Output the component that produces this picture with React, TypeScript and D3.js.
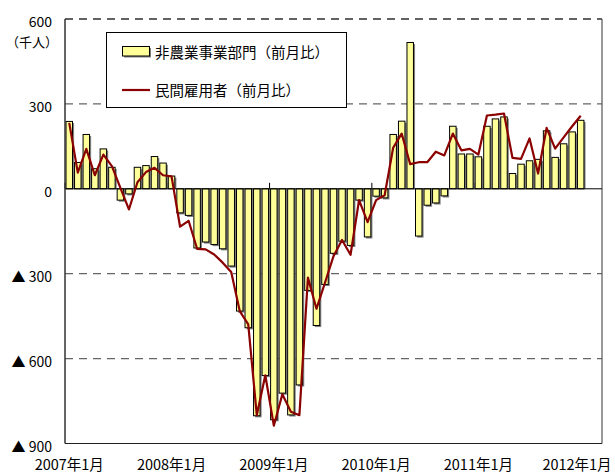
import React, { useEffect, useRef } from 'react';
import * as d3 from 'd3';

// 2007年1月〜2012年1月（月次、千人）
const nonfarmChange = [
  238, 93, 192, 71, 141, 76, -40, -18, 76, 82, 114, 91,
  45, -85, -94, -209, -188, -197, -212, -273, -432, -491, -802, -660,
  -816, -722, -799, -693, -359, -483, -338, -228, -185, -200, -40, -170,
  -26, -32, 192, 239, 517, -167, -58, -50, -25, 221, 123, 123,
  113, 221, 247, 254, 54, 87, 99, 104, 205, 111, 159, 201,
  242,
];

const privateChange = [
  233, 57, 141, 48, 121, 80, 3, -73, 23, 59, 74, 48,
  44, -134, -113, -212, -214, -232, -261, -294, -432, -479, -800, -659,
  -837, -726, -788, -800, -314, -424, -332, -238, -181, -233, -40, -118,
  -40, -23, 145, 195, 87, 94, 94, 131, 118, 195, 136, 141,
  121, 259, 262, 266, 109, 106, 178, 54, 215, 142, 182, 221,
  258,
];

const xTickLabels = ['2007年1月', '2008年1月', '2009年1月', '2010年1月', '2011年1月', '2012年1月'];
const yTicks = [600, 300, 0, -300, -600, -900];
const legendLabels = ['非農業事業部門（前月比）', '民間雇用者（前月比）'];

// 横軸は2012年3月まで（最後の2か月は空き）
const months = d3.timeMonths(new Date(2007, 0, 1), new Date(2012, 3, 1)).map(d3.timeFormat('%Y-%m'));

const FONT = "'Noto Sans CJK JP', 'Noto Sans', sans-serif";

const App: React.FC = () => {
  const ref = useRef<SVGSVGElement | null>(null);

  useEffect(() => {
    if (!ref.current) return;
    const svg = d3.select(ref.current);
    svg.selectAll('*').remove();

    const width = 615;
    const height = 474;
    const margin = { top: 19, right: 13, bottom: 30.5, left: 65 };
    const left = margin.left;
    const right = width - margin.right;
    const top = margin.top;
    const bottom = height - margin.bottom;

    const x = d3.scaleBand<string>()
      .domain(months)
      .range([left, right])
      .paddingInner(0.24)
      .paddingOuter(0.12);

    const y = d3.scaleLinear()
      .domain([-900, 600])
      .range([bottom, top]);

    const step = x.step();
    const bw = x.bandwidth();
    const cx = (i: number) => (x(months[i]) as number) + bw / 2;

    // grid lines
    svg.append('g')
      .selectAll('line')
      .data(yTicks.filter(v => v !== 0 && v !== -900))
      .enter().append('line')
      .attr('x1', left).attr('x2', right)
      .attr('y1', d => y(d)).attr('y2', d => y(d))
      .attr('stroke', '#666')
      .attr('stroke-width', 1.3)
      .attr('stroke-dasharray', '8,6');

    // frame
    svg.append('line')
      .attr('x1', right).attr('x2', right).attr('y1', top).attr('y2', bottom)
      .attr('stroke', '#555').attr('stroke-width', 1.2);
    svg.append('line')
      .attr('x1', left).attr('x2', right).attr('y1', bottom).attr('y2', bottom)
      .attr('stroke', '#222').attr('stroke-width', 1.2);

    // year ticks on zero line
    svg.append('g')
      .selectAll('line')
      .data(d3.range(0, months.length, 12))
      .enter().append('line')
      .attr('x1', i => (x(months[i]) as number) - (step - bw) / 2)
      .attr('x2', i => (x(months[i]) as number) - (step - bw) / 2)
      .attr('y1', y(0)).attr('y2', y(0) - 6)
      .attr('stroke', '#000').attr('stroke-width', 1);

    // bars with shadow
    const bars = svg.append('g');
    bars.selectAll('.shadow')
      .data(nonfarmChange)
      .enter().append('rect')
      .attr('class', 'shadow')
      .attr('x', (d, i) => (x(months[i]) as number) + 1.6)
      .attr('y', d => (d < 0 ? y(0) : y(d) + 1.6))
      .attr('width', bw)
      .attr('height', d => Math.abs(y(d) - y(0)) + (d < 0 ? 1.6 : -1.6))
      .attr('fill', '#808080');
    bars.selectAll('.bar')
      .data(nonfarmChange)
      .enter().append('rect')
      .attr('class', 'bar')
      .attr('x', (d, i) => x(months[i]) as number)
      .attr('y', d => (d < 0 ? y(0) : y(d)))
      .attr('width', bw)
      .attr('height', d => Math.abs(y(d) - y(0)))
      .attr('fill', '#FFFF99')
      .attr('stroke', '#000')
      .attr('stroke-width', 1);

    // zero line
    svg.append('line')
      .attr('x1', left).attr('x2', right).attr('y1', y(0)).attr('y2', y(0))
      .attr('stroke', '#000').attr('stroke-width', 1);

    // top dashed line (600)
    svg.append('line')
      .attr('x1', left).attr('x2', right).attr('y1', y(600)).attr('y2', y(600))
      .attr('stroke', '#555').attr('stroke-width', 1.5)
      .attr('stroke-dasharray', '8,6');

    // left axis
    svg.append('line')
      .attr('x1', left).attr('x2', left).attr('y1', top).attr('y2', bottom)
      .attr('stroke', '#333').attr('stroke-width', 1.5);

    // private employment line
    const line = d3.line<number>()
      .x((d, i) => cx(i))
      .y(d => y(d));
    svg.append('path')
      .datum(privateChange)
      .attr('d', line)
      .attr('fill', 'none')
      .attr('stroke', '#8B0000')
      .attr('stroke-width', 2.2)
      .attr('stroke-linejoin', 'round');

    // y labels
    svg.append('g')
      .selectAll('text')
      .data(yTicks)
      .enter().append('text')
      .attr('x', 52)
      .attr('y', d => y(d) + 8)
      .attr('text-anchor', 'end')
      .attr('font-family', FONT)
      .attr('font-size', 14)
      .attr('fill', '#000')
      .text(d => (d < 0 ? `▲ ${-d}` : `${d}`));

    svg.append('text')
      .attr('x', 58)
      .attr('y', 47)
      .attr('text-anchor', 'end')
      .attr('font-family', FONT)
      .attr('font-size', 13)
      .text('（千人）');

    // x labels
    svg.append('g')
      .selectAll('text')
      .data(xTickLabels)
      .enter().append('text')
      .attr('x', (d, k) => Math.min(cx(k * 12), 577))
      .attr('y', 470)
      .attr('text-anchor', 'middle')
      .attr('font-family', FONT)
      .attr('font-size', 14.5)
      .text(d => d);

    // legend
    const lg = svg.append('g');
    lg.append('rect')
      .attr('x', 106.5).attr('y', 32.5).attr('width', 240).attr('height', 75)
      .attr('fill', '#fff').attr('stroke', '#000').attr('stroke-width', 1);
    lg.append('rect')
      .attr('x', 124).attr('y', 48).attr('width', 27).attr('height', 9.5)
      .attr('fill', '#808080');
    lg.append('rect')
      .attr('x', 122.5).attr('y', 46.5).attr('width', 27).attr('height', 9.5)
      .attr('fill', '#FFFF99').attr('stroke', '#000').attr('stroke-width', 1);
    lg.append('line')
      .attr('x1', 122).attr('x2', 150).attr('y1', 90).attr('y2', 90)
      .attr('stroke', '#8B0000').attr('stroke-width', 2.2);
    lg.selectAll('text.lbl')
      .data(legendLabels)
      .enter().append('text')
      .attr('class', 'lbl')
      .attr('x', 155)
      .attr('y', (d, i) => (i === 0 ? 58 : 95.5))
      .attr('font-family', FONT)
      .attr('font-size', 14.5)
      .text(d => d);
  }, []);

  return (
    <svg
      ref={ref}
      width={615}
      height={474}
      style={{ position: 'absolute', left: 0, top: 0, background: '#fff' }}
    />
  );
};

export default App;
